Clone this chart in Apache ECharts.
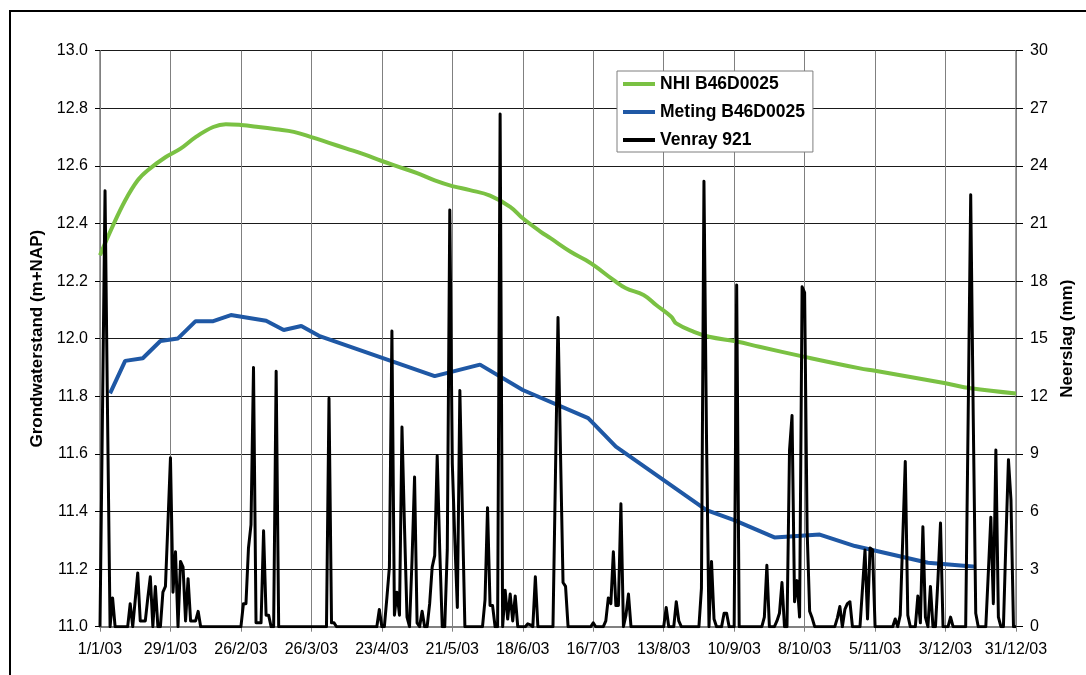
<!DOCTYPE html>
<html>
<head>
<meta charset="utf-8">
<title>Grondwaterstand en neerslag 2003</title>
<script src="https://cdn.jsdelivr.net/npm/echarts@6/dist/echarts.min.js"></script>
<style>
  html, body { margin: 0; padding: 0; background: #ffffff; }
  #chart { width: 1086px; height: 675px; }
</style>
</head>
<body>
<div id="chart"></div>
<script>
// Date tick labels, one every 28 days from 1 January 2003
const dateLabels = ['1/1/03', '29/1/03', '26/2/03', '26/3/03', '23/4/03', '21/5/03', '18/6/03',
  '16/7/03', '13/8/03', '10/9/03', '8/10/03', '5/11/03', '3/12/03', '31/12/03'];

// Daily precipitation Venray 921 (mm), per month
const rainJan = [0, 11.3, 22.7, 11, 0, 1.5, 0, 0, 0, 0, 0, 0, 1.2, 0, 1.4, 2.8, 0.3, 0.3, 0.3, 1.5,
  2.6, 0, 2.1, 0, 0, 1.8, 2.1, 5.4, 8.8, 1.8, 3.9];
const rainFeb = [0, 3.4, 3.1, 0.3, 2.5, 0.3, 0.3, 0.3, 0.8, 0, 0, 0, 0, 0, 0, 0, 0, 0, 0, 0,
  0, 0, 0, 0, 0, 0, 1.2, 1.2];
const rainMar = [4.1, 5.3, 13.5, 0.2, 0.2, 0.2, 5.0, 0.6, 0.6, 0, 0, 13.3, 0, 0, 0, 0, 0, 0, 0, 0,
  0, 0, 0, 0, 0, 0, 0, 0, 0, 0, 0];
const rainApr = [0, 11.9, 0.2, 0.2, 0, 0, 0, 0, 0, 0, 0, 0, 0, 0, 0, 0, 0, 0, 0, 0,
  0, 0.9, 0, 0, 1.5, 3.1, 15.4, 0.6, 1.8, 0.6];
const rainMay = [10.4, 5.2, 0.5, 0, 3.5, 7.8, 0.2, 0, 0.8, 0, 0, 1.2, 3.1, 3.7, 8.9, 4, 0, 0, 4, 21.7,
  8.5, 4.5, 1.0, 12.3, 6, 0, 0, 0, 0, 0, 0];
const rainJun = [0, 0, 1.4, 6.2, 1.1, 1.1, 0, 0, 26.7, 0, 1.9, 0.4, 1.7, 0.3, 1.6, 0, 0, 0, 0, 0.15,
  0.1, 0, 2.6, 0, 0, 0, 0, 0, 0, 0];
const rainJul = [8, 16.1, 9, 2.3, 2.1, 0, 0, 0, 0, 0, 0, 0, 0, 0, 0, 0.2, 0, 0, 0, 0,
  0.3, 1.5, 1.2, 3.9, 1.1, 1.1, 6.4, 0, 0.6, 1.7, 0];
const rainAug = [0, 0, 0, 0, 0, 0, 0, 0, 0, 0, 0, 0, 0, 1.0, 0, 0, 0, 1.3, 0.3, 0,
  0, 0, 0, 0, 0, 0, 0, 2, 23.2, 10, 0];
const rainSep = [3.4, 0.4, 0, 0, 0, 0.7, 0.7, 0, 0, 0, 17.8, 0, 0, 0, 0, 0, 0, 0, 0, 0,
  0, 0.5, 3.2, 0, 0, 0, 0.3, 0.7, 2.3, 0];
const rainOct = [0, 9.2, 11.0, 1.3, 2.4, 0.5, 17.7, 17.4, 5, 0.8, 0.45, 0, 0, 0, 0, 0, 0, 0, 0, 0,
  0.45, 1.05, 0, 0.9, 1.2, 1.3, 0, 0, 0, 0, 2];
const rainNov = [4.0, 0.4, 4.1, 4.0, 0, 0, 0, 0, 0, 0, 0, 0, 0.4, 0, 0.6, 4.6, 8.6, 0.6, 0, 0,
  0, 1.6, 0.2, 5.2, 0.5, 0, 2.1, 0, 0, 2.5];
const rainDec = [5.4, 0, 0, 0, 0.5, 0, 0, 0, 0, 0, 0, 11, 22.5, 11, 0.7, 0, 0, 0, 0, 2.8,
  5.7, 1.2, 9.2, 0.5, 0, 0, 4.5, 8.7, 6.6, 0, 0];

// Modelled groundwater level NHI B46D0025 (m+NAP), day of year -> level
const nhiDays = [0, 5, 10, 15, 19, 26, 32, 38, 45, 50, 56, 63, 70, 77, 84, 91, 98, 105, 112, 119,
  126, 133, 140, 147, 155, 163, 168, 175, 179, 187, 193, 197, 204, 209, 216, 221, 227, 229, 236, 242,
  253, 262, 280, 302, 308, 336, 346, 364];
const nhiLevels = [12.29, 12.39, 12.48, 12.55, 12.585, 12.63, 12.66, 12.7, 12.735, 12.745, 12.742, 12.735,
  12.727, 12.718, 12.70, 12.68, 12.66, 12.64, 12.617, 12.596, 12.575, 12.55, 12.53, 12.516, 12.497, 12.458,
  12.418, 12.372, 12.349, 12.302, 12.273, 12.25, 12.204, 12.175, 12.152, 12.117, 12.076, 12.053, 12.024,
  12.007, 11.99, 11.972, 11.937, 11.897, 11.889, 11.845, 11.828, 11.81];

// Measured groundwater level Meting B46D0025 (m+NAP)
const metingDays = [4, 10, 17, 24, 31, 38, 45, 52, 66, 73, 80, 87, 133, 151, 168, 194, 205, 241,
  252, 268, 286, 300, 329, 348];
const metingLevels = [11.81, 11.923, 11.932, 11.992, 12.001, 12.061, 12.061, 12.082, 12.062, 12.03,
  12.044, 12.01, 11.87, 11.91, 11.822, 11.724, 11.625, 11.405, 11.37, 11.31, 11.32, 11.28, 11.222, 11.208];

const rainDaily = [].concat(rainJan, rainFeb, rainMar, rainApr, rainMay, rainJun,
  rainJul, rainAug, rainSep, rainOct, rainNov, rainDec);

const FONT = '"Liberation Sans", Arial, sans-serif';
const chart = echarts.init(document.getElementById('chart'), null, { renderer: 'canvas' });

chart.setOption({
  animation: false,
  backgroundColor: '#ffffff',
  textStyle: { fontFamily: FONT },
  grid: { left: 100, right: 70, top: 50.7, bottom: 48.3, containLabel: false },
  legend: {
    orient: 'vertical',
    left: 617,
    top: 71,
    padding: [4, 8, 3, 6],
    itemGap: 10,
    itemWidth: 32,
    itemHeight: 4,
    icon: 'rect',
    backgroundColor: '#ffffff',
    borderColor: '#7f7f7f',
    borderWidth: 1,
    textStyle: { fontFamily: FONT, fontSize: 17.5, fontWeight: 'bold', color: '#000' },
    data: ['NHI B46D0025', 'Meting B46D0025', 'Venray 921']
  },
  xAxis: {
    type: 'value',
    min: 0,
    max: 364,
    interval: 28,
    axisLine: { show: true, lineStyle: { color: '#808080', width: 2 } },
    axisTick: { show: true, length: 5, lineStyle: { color: '#808080', width: 1 } },
    axisLabel: {
      margin: 15,
      fontSize: 16,
      color: '#000',
      fontFamily: FONT,
      showMinLabel: true,
      showMaxLabel: true,
      formatter: v => dateLabels[Math.round(v / 28)]
    },
    splitLine: { show: true, lineStyle: { color: '#808080', width: 1 } }
  },
  yAxis: [
    {
      type: 'value',
      position: 'left',
      min: 11,
      max: 13,
      interval: 0.2,
      name: 'Grondwaterstand (m+NAP)',
      nameLocation: 'middle',
      nameRotate: 90,
      nameGap: 50,
      nameTextStyle: { fontFamily: FONT, fontSize: 17, fontWeight: 'bold', color: '#000' },
      axisLine: { show: true, lineStyle: { color: '#808080', width: 1.5 } },
      axisTick: { show: true, length: 5, lineStyle: { color: '#000', width: 1 } },
      axisLabel: { margin: 12, fontSize: 16, color: '#000', fontFamily: FONT, formatter: v => v.toFixed(1) },
      splitLine: { show: true, lineStyle: { color: '#1a1a1a', width: 1 } }
    },
    {
      type: 'value',
      position: 'right',
      min: 0,
      max: 30,
      interval: 3,
      name: 'Neerslag (mm)',
      nameLocation: 'middle',
      nameRotate: 90,
      nameGap: 37,
      nameTextStyle: { fontFamily: FONT, fontSize: 17, fontWeight: 'bold', color: '#000' },
      axisLine: { show: true, lineStyle: { color: '#808080', width: 1.5 } },
      axisTick: { show: true, length: 7, lineStyle: { color: '#000', width: 1 } },
      axisLabel: { margin: 14, fontSize: 16, color: '#000', fontFamily: FONT },
      splitLine: { show: false }
    }
  ],
  series: [
    {
      name: 'NHI B46D0025',
      type: 'line',
      yAxisIndex: 0,
      smooth: 0.4,
      symbol: 'none',
      color: '#7ac143',
      lineStyle: { color: '#7ac143', width: 4 },
      data: nhiDays.map((d, i) => [d, nhiLevels[i]]),
      z: 2
    },
    {
      name: 'Meting B46D0025',
      type: 'line',
      yAxisIndex: 0,
      symbol: 'none',
      color: '#1f58a5',
      lineStyle: { color: '#1f58a5', width: 4 },
      data: metingDays.map((d, i) => [d, metingLevels[i]]),
      z: 3
    },
    {
      name: 'Venray 921',
      type: 'line',
      yAxisIndex: 1,
      symbol: 'none',
      color: '#000000',
      lineStyle: { color: '#000000', width: 3, join: 'round' },
      data: rainDaily.map((v, i) => [i, v]),
      z: 4
    }
  ],
  graphic: [
    {
      type: 'rect',
      silent: true,
      z: 100,
      shape: { x: 10, y: 11, width: 1200, height: 800 },
      style: { fill: 'none', stroke: '#000', lineWidth: 2 }
    }
  ]
});
</script>
</body>
</html>
